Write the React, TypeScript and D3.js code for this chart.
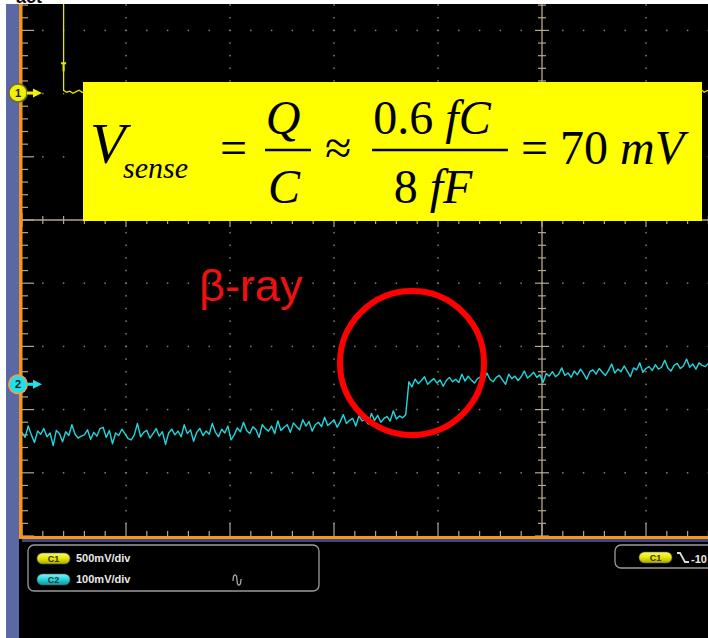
import * as React from 'react'
import * as d3 from 'd3'

// oscilloscope settings (per division)
const ch1Scale = 500 // mV/div
const ch2Scale = 100 // mV/div
const ch1Offset = 2.01 // div above screen centre
const ch2Offset = -2.6

// channel 1 (mostly hidden behind the equation box)
const ch1Time = [-5.0, -4.6, -4.6, -4.57, -4.54, -4.51, -4.48, -4.45, -4.42, -4.39, -4.36, -4.33, -4.3, 1.5, 1.53, 1.56, 1.59, 1.62, 1.66]
const ch1Mv = [3000, 3000, 20, 6, 14, -2, 10, 22, 4, 16, 2, 18, 8, 12, 26, 6, 20, 10, 16]

// channel 2 samples, mV, starting at -5 div, every 0.03 div
const ch2Start = -5
const ch2Step = 0.03
const ch2Mv = [
  // before the hit
  -76, -84, -66, -80, -92, -74, -79, -70, -83, -77, -97, -73, -78, -91, -75, -81, -64, -79, -85, -82,
  -80, -72, -87, -76, -82, -70, -68, -84, -73, -94, -77, -81, -71, -78, -86, -88, -80, -62, -83, -76,
  -73, -85, -78, -70, -82, -75, -95, -77, -71, -80, -74, -83, -64, -78, -72, -90, -76, -70, -81, -74,
  -79, -62, -76, -83, -71, -77, -66, -88, -80, -69, -75, -60, -73, -78, -67, -72, -84, -64, -70, -74,
  -66, -78, -58, -73, -68, -64, -76, -61, -67, -72, -56, -66, -59, -74, -64, -60, -67, -52, -65, -61,
  -56, -68, -59, -48, -62, -57, -54, -66, -50, -58, -55, -63, -46, -57, -49, -60, -54, -51, -58, -42,
  -55, -50, -53, -48,
  // after the hit
  4, -4, 8, 1, 6, 12, 0, 5, 9, 2, 7, -3, 6, 11, 4, 8, 3, 16, 5, 13,
  7, 2, 9, 12, 6, 18, 8, 4, 11, 14, 7, 0, 16, 9, 13, 6, 12, 21, 10, 14,
  19, 11, 15, 3, 17, 13, 20, 12, 16, 26, 14, 18, 11, 21, 15, 24, 17, 8, 20, 23,
  16, 25, 19, 14, 22, 32, 18, 24, 20, 29, 21, 12, 26, 23, 34, 19, 25, 28, 22, 31,
  24, 27, 38, 26, 21, 30, 33, 25, 29, 40, 27, 32, 24, 34, 30, 28, 33,
]

const channelLabels = ['C1', 'C2']
const channelScaleLabels = ['500mV/div', '100mV/div']
const triggerLabel = '-10'

const W = 708
const H = 638
const screen = { left: 22, top: 4, right: 708, bottom: 536 }

const TICK = '#b6a68e'
const DOT = '#8e7e6a'
const YELLOW = '#e6e600'
const CYAN = '#22d6dc'

export default function App() {
  const x = d3.scaleLinear().domain([-5, 5]).range([22, 1062])
  const yDiv = d3.scaleLinear().domain([0, 1]).range([220, 156.8])

  const line = d3.line<[number, number]>().x(d => d[0]).y(d => d[1])

  const ch1Path = line(ch1Time.map((t, i) => [x(t), yDiv(ch1Offset + ch1Mv[i] / ch1Scale)])) || ''
  const ch2Path = line(ch2Mv.map((v, i) => [x(ch2Start + i * ch2Step), yDiv(ch2Offset + v / ch2Scale)])) || ''

  // sub-division positions
  const xSub = d3.range(0, 34).map(k => -5 + k * 0.2)
  const ySub = d3.range(0, 43).map(k => -5 + k * 0.2)

  const dots: JSX.Element[] = []
  d3.range(-4, 4).filter(d => d !== 0).forEach(d => {
    xSub.forEach((xd, k) => {
      if (k === 0) return
      dots.push(<rect key={`h${d}-${k}`} x={x(xd) - 0.75} y={yDiv(d) - 0.75} width={1.5} height={1.5} fill={DOT} />)
    })
  })
  d3.range(-4, 2).filter(d => d !== 0).forEach(d => {
    ySub.forEach((yd, k) => {
      if (k === 0) return
      dots.push(<rect key={`v${d}-${k}`} x={x(d) - 0.75} y={yDiv(yd) - 0.75} width={1.5} height={1.5} fill={DOT} />)
    })
  })

  const ticks: JSX.Element[] = []
  ySub.forEach((yd, k) => {
    const major = k % 5 === 0
    const yy = yDiv(yd)
    if (yy < screen.top) return
    // centre vertical
    ticks.push(<line key={`cv${k}`} x1={x(0) - (major ? 7 : 4)} x2={x(0) + (major ? 7 : 4)} y1={yy} y2={yy} stroke={TICK} strokeWidth={1.2} />)
    // left border
    ticks.push(<line key={`lb${k}`} x1={screen.left} x2={screen.left + (major ? 12 : 6)} y1={yy} y2={yy} stroke={TICK} strokeWidth={1.2} />)
  })
  xSub.forEach((xd, k) => {
    const major = k % 5 === 0
    const xx = x(xd)
    ticks.push(<line key={`ch${k}`} x1={xx} x2={xx} y1={yDiv(0) - (major ? 7 : 4)} y2={yDiv(0) + (major ? 7 : 4)} stroke={TICK} strokeWidth={1.2} />)
    ticks.push(<line key={`bb${k}`} x1={xx} x2={xx} y1={screen.bottom} y2={screen.bottom - (major ? 13 : 5)} stroke={TICK} strokeWidth={1.2} />)
  })

  const marker = (label: string, yy: number, fill: string, ring: string) => (
    <g key={label}>
      <circle cx={18} cy={yy} r={10} fill={ring} />
      <circle cx={18} cy={yy} r={8.3} fill={fill} />
      <path d={`M27,${yy - 1.5} L33,${yy - 1.5} L33,${yy - 4.5} L42,${yy} L33,${yy + 4.5} L33,${yy + 1.5} L27,${yy + 1.5} Z`} fill={fill} />
      <text x={18} y={yy + 4} textAnchor="middle" fontFamily="Liberation Sans, Arial, sans-serif" fontWeight="bold" fontSize={11} fill="#222">{label}</text>
    </g>
  )

  const pill = (label: string, px: number, py: number, grad: string) => (
    <g key={label + px + py}>
      <rect x={px} y={py} width={33} height={11} rx={5.5} fill={`url(#${grad})`} stroke="#555" strokeWidth={0.6} />
      <text x={px + 16.5} y={py + 9} textAnchor="middle" fontFamily="Liberation Sans, Arial, sans-serif" fontWeight="bold" fontSize={9} fill="#333">{label}</text>
    </g>
  )

  const serif = 'Liberation Serif, Times New Roman, serif'

  return (
    <svg width={W} height={H} style={{ position: 'fixed', left: 0, top: 0, display: 'block' }}>
      <defs>
        <linearGradient id="gy" x1="0" y1="0" x2="0" y2="1">
          <stop offset="0" stopColor="#fbfb70" />
          <stop offset="0.5" stopColor="#e6e600" />
          <stop offset="1" stopColor="#a8a800" />
        </linearGradient>
        <linearGradient id="gc" x1="0" y1="0" x2="0" y2="1">
          <stop offset="0" stopColor="#8af2f6" />
          <stop offset="0.5" stopColor="#22d6dc" />
          <stop offset="1" stopColor="#12959a" />
        </linearGradient>
        <clipPath id="scr">
          <rect x={screen.left} y={screen.top} width={screen.right - screen.left} height={screen.bottom - screen.top} />
        </clipPath>
      </defs>

      <rect x={0} y={0} width={W} height={H} fill="#ffffff" />
      <text x={16} y={2.5} fontFamily="Liberation Sans, Arial, sans-serif" fontWeight="bold" fontSize={18} fill="#111">act</text>

      {/* frame */}
      <rect x={6} y={screen.top} width={W - 6} height={H - screen.top} fill="#000" />
      <rect x={6} y={screen.top} width={13} height={H - screen.top} fill="#5a68a6" />

      {/* graticule */}
      <g clipPath="url(#scr)">
        {dots}
        <line x1={x(0)} x2={x(0)} y1={screen.top} y2={screen.bottom} stroke={TICK} strokeWidth={1.3} />
        <line x1={screen.left} x2={screen.right} y1={yDiv(0)} y2={yDiv(0)} stroke={TICK} strokeWidth={1.3} />
        {ticks}

        {/* traces */}
        <path d={ch1Path} fill="none" stroke={YELLOW} strokeWidth={1.3} />
        <path d={`M${x(-4.6) - 2.5},${yDiv(ch1Offset + 0.47)} h5 M${x(-4.6)},${yDiv(ch1Offset + 0.47)} v8`} stroke={YELLOW} strokeWidth={2} fill="none" />
        <path d={ch2Path} fill="none" stroke={CYAN} strokeWidth={1.4} strokeLinejoin="round" />
      </g>

      {/* equation box */}
      <rect x={83} y={82} width={619} height={139} fill="#ffff00" />
      <g fill="#000" fontFamily={serif}>
        <text x={90} y={163} fontSize={58} fontStyle="italic">V</text>
        <text x={123} y={178} fontSize={30} fontStyle="italic">sense</text>
        <text x={220} y={164} fontSize={48}>=</text>
        <text x={283} y={134} fontSize={48} fontStyle="italic" textAnchor="middle">Q</text>
        <line x1={265} x2={311} y1={150} y2={150} stroke="#000" strokeWidth={2.5} />
        <text x={284} y={203} fontSize={48} fontStyle="italic" textAnchor="middle">C</text>
        <text x={325} y={164} fontSize={48}>≈</text>
        <text x={432} y={134} fontSize={48} textAnchor="middle">0.6 <tspan fontStyle="italic">fC</tspan></text>
        <line x1={372} x2={508} y1={150} y2={150} stroke="#000" strokeWidth={2.5} />
        <text x={433} y={203} fontSize={48} textAnchor="middle">8 <tspan fontStyle="italic">fF</tspan></text>
        <text x={521} y={164} fontSize={48}>= 70 <tspan fontStyle="italic">mV</tspan></text>
      </g>

      <text x={199} y={301} fontFamily="Liberation Sans, Arial, sans-serif" fontSize={45} fill="#ee1111">β-ray</text>
      <circle cx={412} cy={363} r={72} fill="none" stroke="#ff0000" strokeWidth={6} />

      {/* borders */}
      <rect x={19} y={screen.top} width={3.5} height={screen.bottom - screen.top + 3} fill="#f7961c" />
      <rect x={19} y={screen.bottom} width={W - 19} height={3} fill="#f7961c" />
      <rect x={22} y={screen.bottom + 3} width={W - 22} height={3} fill="#3c4880" />

      {marker('1', yDiv(ch1Offset), '#f0f000', '#6a6a40')}
      {marker('2', yDiv(ch2Offset), '#1ee0ee', '#e8a24a')}

      {/* info panel */}
      <rect x={28} y={545} width={291} height={46} rx={6} fill="#000" stroke="#9a9a9a" strokeWidth={1.3} />
      {pill(channelLabels[0], 37, 553, 'gy')}
      {pill(channelLabels[1], 37, 574, 'gc')}
      <text x={76} y={562} fontFamily="Liberation Sans, Arial, sans-serif" fontWeight="bold" fontSize={11} fill="#e8e8e8">{channelScaleLabels[0]}</text>
      <text x={76} y={583} fontFamily="Liberation Sans, Arial, sans-serif" fontWeight="bold" fontSize={11} fill="#e8e8e8">{channelScaleLabels[1]}</text>
      <path d="M233,581 C233,573 237,573 237,580 C237,587 241,587 241,579" fill="none" stroke="#aaa" strokeWidth={1.3} />

      <rect x={615} y={545} width={110} height={23} rx={6} fill="#000" stroke="#9a9a9a" strokeWidth={1.3} />
      {pill(channelLabels[0], 639, 552, 'gy')}
      <path d="M677,553 h3 l5,9 h4" fill="none" stroke="#ddd" strokeWidth={1.8} />
      <text x={691} y={563} fontFamily="Liberation Sans, Arial, sans-serif" fontWeight="bold" fontSize={11} fill="#e8e8e8">{triggerLabel}</text>
    </svg>
  )
}
